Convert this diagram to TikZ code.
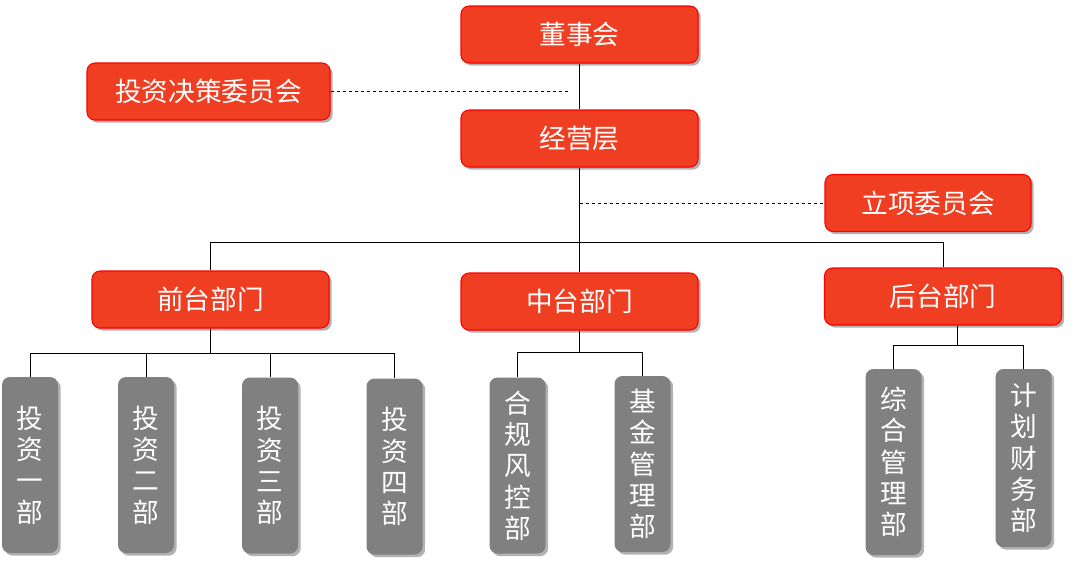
\documentclass[tikz,border=0pt]{standalone}
\usepackage{fontspec}
\newfontfamily\cjk{Noto Sans CJK SC}
\usetikzlibrary{shadows}
\definecolor{boxred}{RGB}{240,62,34}
\definecolor{boxgrey}{RGB}{128,128,128}

\begin{document}
\begin{tikzpicture}[x=0.75pt,y=-0.75pt,
  box/.style={text=white,inner sep=0pt,rounded corners=6pt,
    drop shadow={shadow xshift=2pt,shadow yshift=-2pt,opacity=0.3,fill=black}},
  redbox/.style={box,draw=red,line width=0.8pt,fill=boxred,minimum width=177.75pt,
    minimum height=42.75pt,font=\cjk\fontsize{20}{24}\selectfont},
  greybox/.style={box,fill=boxgrey,minimum width=42pt,align=center,
    font=\cjk\fontsize{20}{23.5}\selectfont},
  link/.style={line width=0.75pt},
  dashlink/.style={line width=0.6pt,dash pattern=on 2.5pt off 2pt}]
  \useasboundingbox (0,0) rectangle (1073,562);

  \node[redbox] (board) at (579.5,34.5) {董事会};
  \node[redbox,minimum width=182.25pt] (invest) at (208.5,91.5) {投资决策委员会};
  \node[redbox] (mgmt) at (579.5,138.5) {经营层};
  \node[redbox,minimum width=154.5pt] (project) at (928,203) {立项委员会};
  \node[redbox] (front) at (210.5,299.5) {前台部门};
  \node[redbox] (middle) at (579.5,301.5) {中台部门};
  \node[redbox] (back) at (943,296.5) {后台部门};

  \node[greybox,minimum height=132pt] (f1) at (30,465) {投\\资\\一\\部};
  \node[greybox,minimum height=132pt] (f2) at (146,465) {投\\资\\二\\部};
  \node[greybox,minimum height=132pt] (f3) at (270,465.5) {投\\资\\三\\部};
  \node[greybox,minimum height=132pt] (f4) at (394.5,466.5) {投\\资\\四\\部};
  \node[greybox,minimum height=132pt] (m1) at (517.5,465.5) {合\\规\\风\\控\\部};
  \node[greybox,minimum height=132pt] (m2) at (642.5,464) {基\\金\\管\\理\\部};
  \node[greybox,minimum height=139.5pt] (b1) at (893.5,462) {综\\合\\管\\理\\部};
  \node[greybox,minimum height=133.5pt] (b2) at (1023.5,458) {计\\划\\财\\务\\部};

  \coordinate (bus) at (579.5,242);
  \coordinate (dashend) at (570,91.5);
  \coordinate (tap) at (579.5,203);
  \coordinate (fbus) at (210.5,353);
  \coordinate (mbus) at (579.5,352);
  \coordinate (bbus) at (957,345);

  \draw[link] (board) -- (mgmt);
  \draw[link] (mgmt) -- (middle);
  \draw[link] (front.north) |- (bus) -| (back.north);
  \draw[dashlink] (invest.east) -- (dashend);
  \draw[dashlink] (tap) -- (project.west);

  \foreach \n in {f1,f2,f3,f4}
    \draw[link] (front.south) -- (fbus) -| (\n.north);
  \foreach \n in {m1,m2}
    \draw[link] (middle.south) -- (mbus) -| (\n.north);
  \foreach \n in {b1,b2}
    \draw[link] (back.south -| bbus) -- (bbus) -| (\n.north);
\end{tikzpicture}
\end{document}
